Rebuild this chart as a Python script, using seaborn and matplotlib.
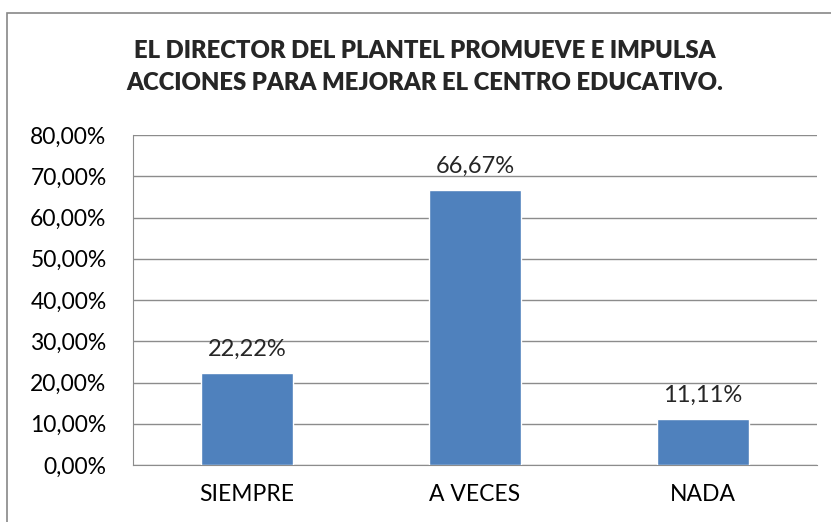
import matplotlib
matplotlib.use('Agg')
import matplotlib.pyplot as plt
import matplotlib.patches as mpatches
from matplotlib.ticker import FuncFormatter
import seaborn as sns
import pandas as pd

# datos
categorias = ['SIEMPRE', 'A VECES', 'NADA']
porcentajes = [22.22, 66.67, 11.11]
titulo = 'EL DIRECTOR DEL PLANTEL PROMUEVE E IMPULSA\nACCIONES PARA MEJORAR EL CENTRO EDUCATIVO.'

sns.set_style('white')
plt.rcParams['font.family'] = ['Lato', 'DejaVu Sans']

df = pd.DataFrame({'cat': categorias, 'val': porcentajes})

fig = plt.figure(figsize=(8.31, 5.22), dpi=100)
ax = fig.add_axes([133 / 831, 1 - 465 / 522, (817 - 133) / 831, (465 - 135) / 522])

sns.barplot(data=df, x='cat', y='val', color='#4F81BD', saturation=1,
            width=0.4, ax=ax, zorder=3)

ax.set_ylim(0, 80)
ax.set_yticks(range(0, 81, 10))
ax.yaxis.set_major_formatter(FuncFormatter(lambda v, p: f'{v:.2f}%'.replace('.', ',')))
ax.grid(axis='y', color='#8c8c8c', linewidth=1, zorder=0)
ax.set_xlabel('')
ax.set_ylabel('')
ax.tick_params(axis='both', labelsize=16.5, length=0, colors='#000000')
ax.tick_params(axis='x', pad=14)
ax.tick_params(axis='y', pad=19)
for s in ['top', 'right']:
    ax.spines[s].set_visible(False)
ax.spines['left'].set_color('#8c8c8c')
ax.spines['bottom'].set_color('#8c8c8c')

for i, v in enumerate(porcentajes):
    ax.text(i, v + 3.3, f'{v:.2f}%'.replace('.', ','), ha='center', va='bottom', fontsize=17)

fig.text(425 / 831, 1 - 67 / 522, titulo, ha='center', va='center',
         fontsize=17.2, fontweight='heavy', linespacing=1.5)

# borde del gráfico
borde = mpatches.Rectangle((7 / 831, -0.05), 1.1, 1 - 13 / 522 + 0.05,
                           transform=fig.transFigure, fill=False,
                           edgecolor='#888888', linewidth=1.2)
fig.patches.append(borde)

fig.savefig('out.png', dpi=100)
